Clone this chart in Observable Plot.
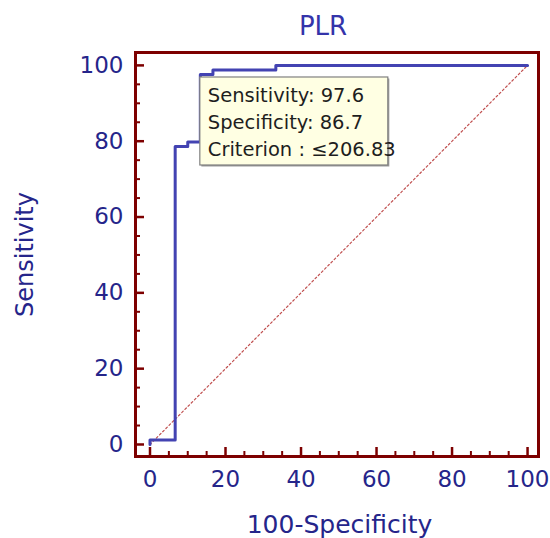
<!DOCTYPE html>
<html>
<head>
<meta charset="utf-8">
<script src="https://cdn.jsdelivr.net/npm/d3@7"></script>
<script src="https://cdn.jsdelivr.net/npm/@observablehq/plot@0.6"></script>
<style>
  html, body { margin: 0; padding: 0; background: #fff; }
</style>
</head>
<body>
<div id="chart"></div>
<script>
// ROC curve points (100-Specificity, Sensitivity)
const rocX = [0, 0, 6.67, 10, 13.33, 16.67, 33.33, 100];
const rocY = [0, 1.2, 78.6, 79.8, 97.6, 98.8, 100, 100];
const diagX = [0, 100];
const diagY = [0, 100];
const xTicks = [0, 20, 40, 60, 80, 100];
const yTicks = [0, 20, 40, 60, 80, 100];
const minorTicks = [5, 10, 15, 25, 30, 35, 45, 50, 55, 65, 70, 75, 85, 90, 95];
const title = "PLR";
const xLabel = "100-Specificity";
const yLabel = "Sensitivity";
const critPoint = {x: 13.33, y: 97.6};
const tipLines = ["Sensitivity: 97.6", "Specificity: 86.7", "Criterion : \u2264206.83"];

const roc = rocX.map((x, i) => ({x, y: rocY[i]}));
const diag = diagX.map((x, i) => ({x, y: diagY[i]}));

const W = 550, H = 538;
const mL = 135, mR = 12, mT = 52, mB = 82;
const plotW = W - mL - mR, plotH = H - mT - mB;
const frameCol = "#7d0000";
const navy = "#25258a";
const font = "DejaVu Sans";

const svg = Plot.plot({
  width: W,
  height: H,
  marginLeft: mL,
  marginRight: mR,
  marginTop: mT,
  marginBottom: mB,
  style: {fontFamily: font, fontSize: "23px", background: "#fff", overflow: "visible"},
  x: {domain: [-3.84, 102.9], label: null},
  y: {domain: [-3.17, 103.4], label: null},
  marks: [
    Plot.line(diag, {x: "x", y: "y", stroke: "#c05050", strokeWidth: 1.2, strokeDasharray: "2,2.5"}),
    Plot.line(roc, {x: "x", y: "y", curve: "step-after", stroke: "#4343b2", strokeWidth: 3}),
    Plot.tickX(minorTicks, {x: d => d, insetTop: plotH - 5, stroke: frameCol, strokeWidth: 2}),
    Plot.tickX(xTicks, {x: d => d, insetTop: plotH - 9, stroke: frameCol, strokeWidth: 2.5}),
    Plot.tickY(minorTicks, {y: d => d, insetRight: plotW - 5, stroke: frameCol, strokeWidth: 2}),
    Plot.tickY(yTicks, {y: d => d, insetRight: plotW - 9, stroke: frameCol, strokeWidth: 2.5}),
    Plot.frame({stroke: frameCol, strokeWidth: 3}),
    Plot.axisX({ticks: xTicks, tickSize: 0, tickPadding: 14, fill: navy, fontSize: 23, label: null}),
    Plot.axisY({ticks: yTicks, tickSize: 0, tickPadding: 12, fill: navy, fontSize: 23, label: null}),
    Plot.text([title], {frameAnchor: "top", dx: -14, dy: -18, fill: "#3434aa", fontSize: 26, lineAnchor: "bottom"}),
    Plot.text([xLabel], {frameAnchor: "bottom", dx: 2.5, dy: 59, fill: navy, fontSize: 25, lineAnchor: "top"}),
    Plot.text([yLabel], {frameAnchor: "left", dx: -110, rotate: -90, fill: navy, fontSize: 24, lineAnchor: "middle", textAnchor: "middle"})
  ]
});

// Tooltip box anchored at the criterion point
const px = svg.scale("x").apply(critPoint.x);
const py = svg.scale("y").apply(critPoint.y);
const bx = px, by = py + 3, bw = 188, bh = 88;
const g = d3.select(svg).append("g").attr("text-anchor", "start");
g.append("rect").attr("x", bx + 1.5).attr("y", by + 1.5).attr("width", bw).attr("height", bh).attr("fill", "#9a9a9a");
g.append("rect").attr("x", bx).attr("y", by).attr("width", bw).attr("height", bh)
  .attr("fill", "#ffffe3").attr("stroke", "#808080").attr("stroke-width", 1.2);
tipLines.forEach((t, i) => {
  g.append("text").attr("x", bx + 8).attr("y", by + 25 + i * 27)
    .attr("text-anchor", "start")
    .attr("fill", "#1e1e1e").attr("font-family", font).attr("font-size", 19.5).text(t);
});

document.getElementById("chart").appendChild(svg);
</script>
</body>
</html>
